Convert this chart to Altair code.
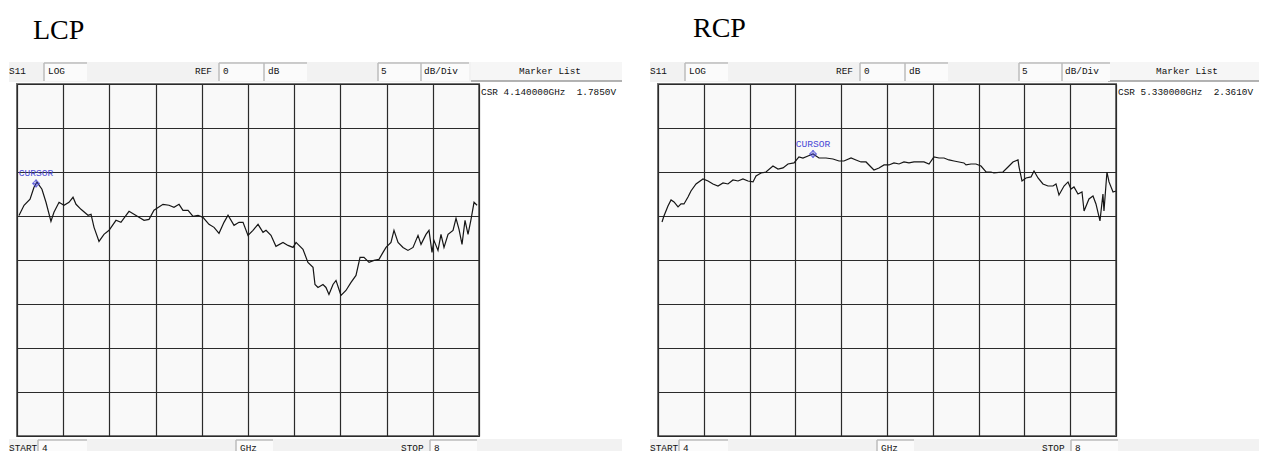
import altair as alt
import pandas as pd

# ---------------- data ----------------
LCP_FREQ = [4.017, 4.061, 4.113, 4.147, 4.173, 4.216, 4.251, 4.294, 4.320, 4.364,
            4.407, 4.450, 4.485, 4.511, 4.554, 4.615, 4.641, 4.667, 4.710, 4.753,
            4.797, 4.857, 4.900, 4.944, 4.970, 5.013, 5.056, 5.100, 5.143, 5.186,
            5.264, 5.316, 5.359, 5.403, 5.437, 5.481, 5.524, 5.567, 5.610, 5.662,
            5.706, 5.749, 5.792, 5.827, 5.879, 5.922, 5.957, 6.000, 6.043, 6.087,
            6.130, 6.156, 6.199, 6.242, 6.303, 6.346, 6.390, 6.416, 6.476, 6.519,
            6.563, 6.580, 6.606, 6.649, 6.675, 6.701, 6.736, 6.762, 6.788, 6.805,
            6.848, 6.892, 6.935, 6.970, 7.004, 7.048, 7.091, 7.134, 7.169, 7.195,
            7.238, 7.264, 7.299, 7.342, 7.385, 7.429, 7.472, 7.498, 7.541, 7.567,
            7.593, 7.610, 7.645, 7.671, 7.697, 7.732, 7.775, 7.801, 7.827, 7.853,
            7.879, 7.905, 7.931, 7.957, 7.983]
LCP_DB = [-14.95, -13.78, -13.10, -11.73, -11.16, -11.96, -13.44, -15.60, -14.58, -13.44,
          -13.78, -13.44, -12.87, -13.67, -14.24, -14.92, -14.81, -16.29, -17.88, -17.09,
          -16.63, -15.49, -15.72, -14.92, -14.47, -14.81, -15.15, -15.49, -15.38, -14.35,
          -13.67, -13.78, -14.01, -13.67, -14.35, -14.35, -15.03, -14.92, -15.15, -15.95,
          -16.29, -16.97, -15.72, -14.92, -16.06, -15.72, -15.72, -17.20, -16.63, -15.95,
          -16.86, -16.63, -17.20, -18.45, -18.00, -18.34, -18.57, -18.00, -18.79, -20.27,
          -20.84, -22.78, -23.12, -22.78, -23.12, -23.92, -22.78, -22.32, -23.35, -24.03,
          -23.46, -22.55, -21.75, -19.70, -19.70, -20.27, -20.05, -19.93, -19.13, -18.57,
          -18.00, -16.63, -18.00, -18.57, -18.91, -18.57, -17.20, -18.22, -17.09, -16.63,
          -19.13, -17.77, -18.91, -17.09, -18.57, -17.09, -16.63, -15.26, -16.52, -18.22,
          -15.49, -17.09, -15.38, -13.44, -13.78]

RCP_FREQ = [4.035, 4.052, 4.087, 4.114, 4.140, 4.175, 4.201, 4.227, 4.262, 4.288,
            4.332, 4.393, 4.437, 4.480, 4.524, 4.568, 4.611, 4.655, 4.699, 4.742,
            4.786, 4.830, 4.856, 4.900, 4.943, 5.004, 5.048, 5.092, 5.135, 5.188,
            5.231, 5.266, 5.310, 5.354, 5.406, 5.467, 5.528, 5.581, 5.624, 5.686,
            5.729, 5.773, 5.817, 5.860, 5.886, 5.930, 5.974, 6.017, 6.061, 6.105,
            6.148, 6.192, 6.236, 6.280, 6.323, 6.367, 6.410, 6.454, 6.498, 6.541,
            6.585, 6.629, 6.672, 6.690, 6.734, 6.777, 6.821, 6.865, 6.908, 6.934,
            7.013, 7.057, 7.100, 7.144, 7.153, 7.179, 7.214, 7.258, 7.284, 7.319,
            7.362, 7.406, 7.450, 7.476, 7.502, 7.546, 7.581, 7.607, 7.633, 7.668,
            7.703, 7.721, 7.764, 7.799, 7.825, 7.860, 7.886, 7.895, 7.921, 7.939,
            7.974, 8.000]
RCP_DB = [-15.68, -15.00, -13.86, -13.18, -13.40, -13.97, -13.63, -13.63, -12.84, -12.16,
          -11.36, -10.79, -11.02, -11.36, -11.59, -11.25, -11.36, -10.91, -11.02, -10.79,
          -11.02, -11.13, -10.45, -10.11, -10.00, -9.32, -9.66, -9.54, -9.09, -8.97,
          -8.29, -8.41, -8.18, -7.95, -8.41, -8.41, -8.52, -8.75, -8.75, -8.41,
          -8.63, -8.86, -8.86, -9.43, -9.77, -9.54, -9.20, -9.20, -8.97, -9.09,
          -8.86, -8.97, -8.86, -8.86, -8.86, -9.09, -8.29, -8.41, -8.41, -8.63,
          -8.75, -8.86, -8.97, -9.20, -9.09, -9.09, -9.32, -10.00, -10.00, -10.11,
          -10.00, -9.43, -8.86, -8.63, -9.43, -11.02, -10.68, -10.56, -9.88, -10.68,
          -11.36, -11.59, -11.59, -11.36, -12.61, -11.59, -11.13, -11.93, -11.70, -12.50,
          -12.27, -14.43, -13.06, -12.72, -13.63, -15.56, -12.50, -14.43, -10.00, -11.13,
          -12.27, -12.16]

X_TICKS = [4.0, 4.4, 4.8, 5.2, 5.6, 6.0, 6.4, 6.8, 7.2, 7.6, 8.0]
Y_TICKS = [0, -5, -10, -15, -20, -25, -30, -35, -40]

TITLES = ["LCP", "RCP"]
CURSOR_FREQ = [4.165, 5.354]
CURSOR_DB = [-11.3, -7.95]
MARKER_LINES = ["CSR 4.140000GHz\u00a0\u00a01.7850V", "CSR 5.330000GHz\u00a0\u00a02.3610V"]
HEADER_LABELS = ["S11", "LOG", "REF", "0", "dB", "5", "dB/Div", "Marker List"]
FOOTER_LABELS = ["START", "4", "GHz", "STOP", "8"]

# ---------------- styling ----------------
MONO = "Liberation Mono"
SERIF = "Liberation Serif"
BLUE = "#4a4ad6"
BAND = "#f2f2f2"
BOXFILL = "#fbfbfb"
EDGE = "#bdbdbd"
H = 352

one = pd.DataFrame({"k": [0]})


def txt(s, x, y, size=9.4, color="#111111", font=MONO, align="left"):
    return alt.Chart(one).mark_text(text=s, align=align, baseline="middle", font=font,
                                    fontSize=size, color=color).encode(
        x=alt.value(x), y=alt.value(y))


def rect(x1, x2, y1, y2, fill, opacity=1):
    return alt.Chart(one).mark_rect(fill=fill, opacity=opacity).encode(
        x=alt.value(x1), x2=alt.value(x2), y=alt.value(y1), y2=alt.value(y2))


def rule(x1, x2, y1, y2, color, width=1.0):
    return alt.Chart(one).mark_rule(color=color, strokeWidth=width).encode(
        x=alt.value(x1), x2=alt.value(x2), y=alt.value(y1), y2=alt.value(y2))


def box(x1, x2, y1, y2):
    return [rect(x1, x2, y1, y2, BOXFILL),
            rule(x1, x2, y1, y1, EDGE, 1.5),
            rule(x1, x1, y1, y2, EDGE, 1.5)]


def panel(i, freqs, dbs, W, title_dx, title_y):
    df = pd.DataFrame({"f": freqs, "db": dbs})
    xs = alt.Scale(domain=[4, 8], nice=False, zero=False)
    ys = alt.Scale(domain=[-40, 0], nice=False, zero=False)
    xa = alt.Axis(values=X_TICKS, grid=True, labels=False, ticks=False, domain=False,
                  title=None, gridColor="#2b2b2b", gridWidth=1.2, gridOpacity=1)
    ya = alt.Axis(values=Y_TICKS, grid=True, labels=False, ticks=False, domain=False,
                  title=None, gridColor="#2b2b2b", gridWidth=1.2, gridOpacity=1)

    line = alt.Chart(df).mark_line(color="#161616", strokeWidth=1.2).encode(
        x=alt.X("f:Q", scale=xs, axis=xa),
        y=alt.Y("db:Q", scale=ys, axis=ya),
    )
    cur = pd.DataFrame({"f": [CURSOR_FREQ[i]], "db": [CURSOR_DB[i]]})
    cur_pt = alt.Chart(cur).mark_point(shape="diamond", size=45, filled=False,
                                       color=BLUE, strokeWidth=1.2).encode(
        x="f:Q", y="db:Q")
    cur_tick = alt.Chart(cur).mark_point(shape="M0,-1L0,1M-0.8,0L0.8,0", size=60,
                                         filled=False, color=BLUE,
                                         strokeWidth=1.1).encode(x="f:Q", y="db:Q")
    cur_txt = alt.Chart(cur).mark_text(text="CURSOR", dy=-10, font=MONO, fontSize=9.6,
                                       color=BLUE).encode(x="f:Q", y="db:Q")

    hy = -13
    deco = [
        rect(-8, W + 143, -75, H + 15, "#ffffff", opacity=0),   # layout frame
        rect(-8, W - 8, -22, -2, BAND),
        rect(W - 8, W + 143, -22, -3, "#f6f6f6"),
        rule(W - 8, W + 143, -3, -3, "#9a9a9a", 1.5),
        rect(-8, W + 143, H + 3, H + 15, BAND),
    ]
    deco += box(27, 70, -21, -3)
    deco += box(202, 247, -21, -3)
    deco += box(247, 290, -21, -3)
    deco += box(361, 404, -21, -3)
    deco += box(404, 452, -21, -3)
    deco += box(21, 70, H + 4, H + 15)
    deco += box(219, 256, H + 4, H + 15)
    deco += box(413, 460, H + 4, H + 15)

    labels = [
        txt(HEADER_LABELS[0], -8, hy),
        txt(HEADER_LABELS[1], 31, hy),
        txt(HEADER_LABELS[2], 178, hy),
        txt(HEADER_LABELS[3], 206, hy),
        txt(HEADER_LABELS[4], 251, hy),
        txt(HEADER_LABELS[5], 364, hy),
        txt(HEADER_LABELS[6], 407, hy),
        txt(HEADER_LABELS[7], W + 71, hy, align="center"),
        txt(MARKER_LINES[i], W + 2, 8),
        txt(FOOTER_LABELS[0], -8, H + 12),
        txt(FOOTER_LABELS[1], 25, H + 12),
        txt(FOOTER_LABELS[2], 223, H + 12),
        txt(FOOTER_LABELS[3], 384, H + 12),
        txt(FOOTER_LABELS[4], 417, H + 12),
        txt(TITLES[i], title_dx, title_y, size=28, color="#000000", font=SERIF),
    ]
    return alt.layer(line, *deco, *labels, cur_txt, cur_pt, cur_tick).properties(
        width=W, height=H)


left = panel(0, LCP_FREQ, LCP_DB, 462, 16, -53)
right = panel(1, RCP_FREQ, RCP_DB, 458, 35, -55)

chart = alt.hconcat(left, right, spacing=179, bounds="flush").properties(
    padding=0
).configure_view(fill="#f9f9f9", stroke="#747474", strokeWidth=2)

chart.save("out.html", embed_options={"renderer": "svg", "actions": False})
